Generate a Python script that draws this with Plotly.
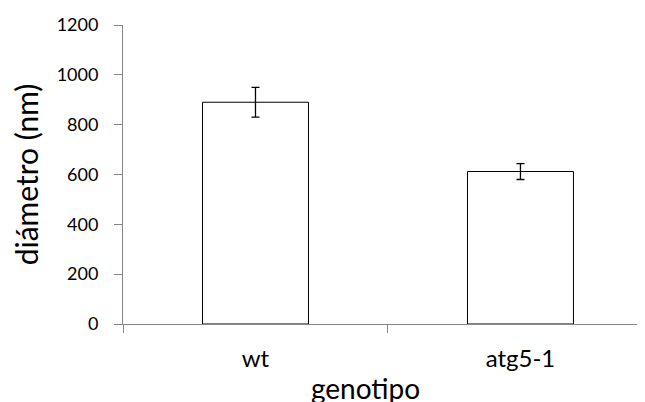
import plotly.graph_objects as go

# genotype data
genotipos = ["wt", "atg5-1"]
diametro = [890, 612]
error = [60, 32]
y_ticks = [0, 200, 400, 600, 800, 1000, 1200]

FONT = "Lato, Open Sans, sans-serif"
AXIS_GREY = "#868686"

fig = go.Figure()

fig.add_trace(
    go.Bar(
        x=genotipos,
        y=diametro,
        width=0.4,
        marker=dict(color="white", line=dict(color="black", width=1)),
        error_y=dict(type="data", array=error, visible=True, color="black", thickness=1.3, width=4),
    )
)

fig.update_xaxes(
    range=[-0.5, 1.47],
    showline=True,
    linecolor=AXIS_GREY,
    linewidth=1,
    ticks="outside",
    tickson="boundaries",
    ticklen=8,
    tickcolor=AXIS_GREY,
    ticklabelstandoff=13,
    tickfont=dict(family=FONT, size=24, color="black"),
    showgrid=False,
    zeroline=False,
)
fig.update_yaxes(
    range=[0, 1200],
    tickvals=y_ticks,
    showline=True,
    linecolor=AXIS_GREY,
    linewidth=1,
    ticks="outside",
    ticklen=8,
    tickcolor=AXIS_GREY,
    ticklabelstandoff=12,
    tickfont=dict(family=FONT, size=18, color="black"),
    showgrid=False,
    zeroline=False,
    title=dict(text="diámetro (nm)", font=dict(family=FONT, size=30, color="black"), standoff=10),
)

# axis title placed by hand (sits left of the category midpoint in the original)
fig.add_annotation(
    text="genotipo",
    xref="paper",
    yref="paper",
    x=(357 - 115) / 522,
    y=-0.15,
    yanchor="top",
    showarrow=False,
    font=dict(family=FONT, size=28, color="black"),
)

# page body has an 8px margin, so the figure is trimmed to fit the window
fig.update_layout(
    width=637,
    height=394,
    showlegend=False,
    plot_bgcolor="white",
    paper_bgcolor="white",
    margin=dict(l=115, r=0, t=17, b=78, autoexpand=False),
)

fig.write_html("out.html")
